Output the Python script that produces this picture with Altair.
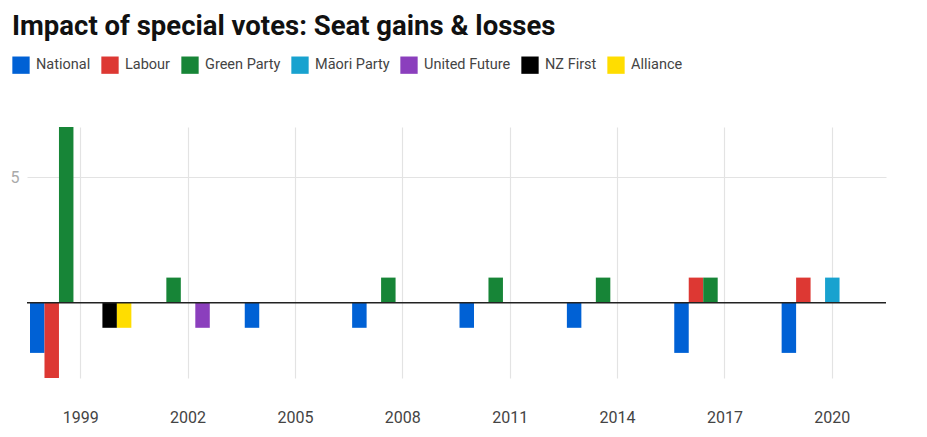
import altair as alt
import pandas as pd

parties = ["National", "Labour", "Green Party", "Māori Party", "United Future", "NZ First", "Alliance"]
colors = ["#0061d5", "#dd3833", "#178537", "#18a2cf", "#8b3fbd", "#000000", "#ffdd00"]
years = ["1999", "2002", "2005", "2008", "2011", "2014", "2017", "2020"]

rec_year = ["1999", "1999", "1999", "1999", "1999",
            "2002", "2002",
            "2005",
            "2008", "2008",
            "2011", "2011",
            "2014", "2014",
            "2017", "2017", "2017",
            "2020", "2020", "2020"]
rec_party = ["National", "Labour", "Green Party", "NZ First", "Alliance",
             "Green Party", "United Future",
             "National",
             "National", "Green Party",
             "National", "Green Party",
             "National", "Green Party",
             "National", "Labour", "Green Party",
             "National", "Labour", "Māori Party"]
rec_value = [-2, -3, 7, -1, -1,
             1, -1,
             -1,
             -1, 1,
             -1, 1,
             -1, 1,
             -2, 1, 1,
             -2, 1, 1]

df = pd.DataFrame({"year": rec_year, "party": rec_party, "value": rec_value})
zero = pd.DataFrame({"v": [0]})

FONT = "Roboto"

bars = alt.Chart(df).mark_bar().encode(
    x=alt.X("year:N", sort=years,
            scale=alt.Scale(domain=years, paddingInner=0.056, paddingOuter=0.028),
            axis=alt.Axis(title=None, labelAngle=0, domain=False, ticks=False, tickSize=0,
                          grid=True, gridColor="#e3e3e3", gridWidth=1.2,
                          labelFont=FONT, labelFontSize=16, labelColor="#444444",
                          labelPadding=31)),
    xOffset=alt.XOffset("party:N", sort=parties,
                        scale=alt.Scale(domain=parties, paddingInner=0, paddingOuter=0)),
    y=alt.Y("value:Q", scale=alt.Scale(domain=[-3, 7], nice=False, zero=True),
            axis=alt.Axis(title=None, values=[5], domain=False, ticks=False, tickSize=0,
                          grid=True, gridColor="#e3e3e3", gridWidth=1.2,
                          labelFont=FONT, labelFontSize=16, labelColor="#aaaaaa",
                          labelPadding=8)),
    color=alt.Color("party:N", sort=parties,
                    scale=alt.Scale(domain=parties, range=colors),
                    legend=alt.Legend(title=None, orient="none", legendX=-15, legendY=-71,
                                      direction="horizontal", columns=7,
                                      symbolType="square", symbolSize=300,
                                      symbolStrokeWidth=0, symbolOpacity=1,
                                      labelFont=FONT, labelFontSize=14.5, labelColor="#444444",
                                      labelOffset=6, columnPadding=10, padding=0)),
)

rule = alt.Chart(zero).mark_rule(color="#222222", strokeWidth=1.5).encode(y="v:Q")

chart = alt.layer(bars, rule).properties(
    width=859,
    height=251,
    title=alt.TitleParams("Impact of special votes: Seat gains & losses",
                          anchor="start", frame="group", font=FONT, fontSize=27.5,
                          fontWeight="bold", color="#111111", dx=-15, dy=29,
                          baseline="alphabetic", offset=23),
    autosize=alt.AutoSizeParams(type="none"),
    padding={"left": 19, "top": 119, "right": 30, "bottom": 55},
).configure_view(stroke=None)

chart.save("out.html", embed_options={"renderer": "svg", "actions": False})
